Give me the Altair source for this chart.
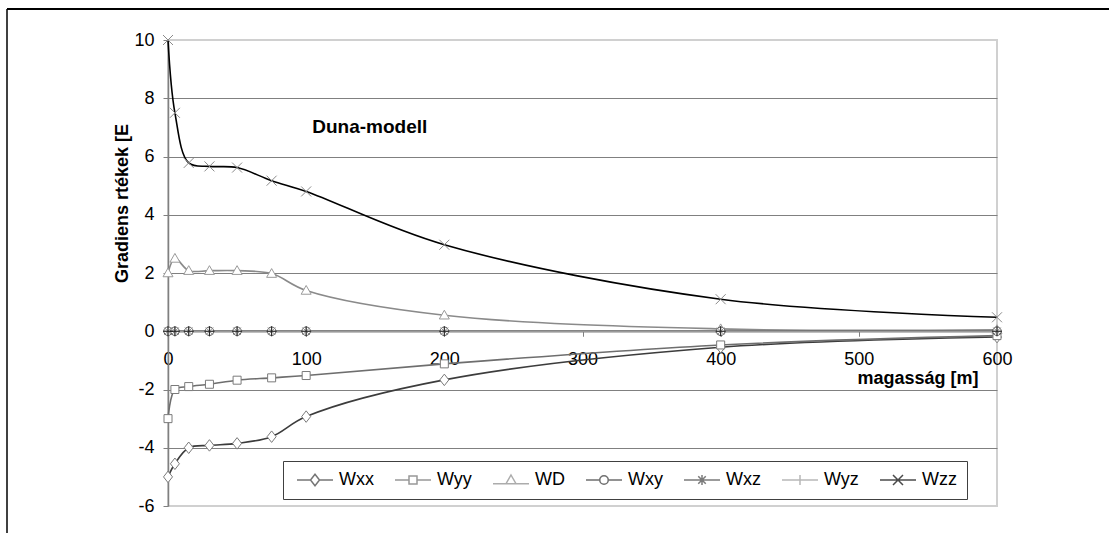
import altair as alt
import pandas as pd

# Heights above the surface [m]
heights = [0, 5, 15, 30, 50, 75, 100, 200, 400, 600]

# Gradient tensor components [E] along the profile
wxx = [-5.0, -4.55, -4.0, -3.92, -3.85, -3.62, -2.93, -1.67, -0.55, -0.2]
wyy = [-3.0, -2.0, -1.9, -1.82, -1.68, -1.6, -1.52, -1.12, -0.47, -0.15]
wd = [2.0, 2.5, 2.08, 2.08, 2.08, 1.98, 1.4, 0.55, 0.08, 0.05]
wxy = [0, 0, 0, 0, 0, 0, 0, 0, 0, 0]
wxz = [0, 0, 0, 0, 0, 0, 0, 0, 0, 0]
wyz = [0, 0, 0, 0, 0, 0, 0, 0, 0, 0]
wzz = [10.0, 7.5, 5.78, 5.66, 5.62, 5.17, 4.8, 2.97, 1.1, 0.48]

series_names = ["Wxx", "Wyy", "WD", "Wxy", "Wxz", "Wyz", "Wzz"]
series_values = [wxx, wyy, wd, wxy, wxz, wyz, wzz]

x_ticks = [0, 100, 200, 300, 400, 500, 600]
y_ticks = [-6, -4, -2, 0, 2, 4, 6, 8, 10]

rows = []
for name, vals in zip(series_names, series_values):
    for h, v in zip(heights, vals):
        rows.append({"series": name, "h": h, "v": v})
df = pd.DataFrame(rows)

# ---- styling -------------------------------------------------------------
FONT = "Liberation Sans"
line_colors = ["#3c3c3c", "#6e6e6e", "#8a8a8a", "#333333", "#444444", "#9a9a9a", "#000000"]
line_widths = [1.6, 1.6, 1.6, 1.6, 1.6, 1.6, 2.4]
marker_colors = ["#7a7a7a", "#7a7a7a", "#9a9a9a", "#555555", "#8a8a8a", "#222222", "#8a8a8a"]

marker_paths = [
    "M0,-1.15L0.9,0L0,1.15L-0.9,0Z",                       # diamond
    "M-0.8,-0.8L0.8,-0.8L0.8,0.8L-0.8,0.8Z",               # square
    "M0,-1L1,0.75L-1,0.75Z",                               # triangle
    "M0.85,0A0.85,0.85 0 1 1 -0.85,0A0.85,0.85 0 1 1 0.85,0Z",  # circle
    "M-1,0L1,0M0,-1L0,1M-0.75,-0.75L0.75,0.75M-0.75,0.75L0.75,-0.75",  # asterisk
    "M-1,0L1,0M0,-1L0,1",                                  # plus
    "M-1,-1L1,1M-1,1L1,-1",                                # x
]

# legend keys: a short line segment with the marker in the middle
legend_paths = [
    "M-3.6,0L-0.9,0M0.9,0L3.6,0M0,-1.15L0.9,0L0,1.15L-0.9,0Z",
    "M-3.6,0L-0.8,0M0.8,0L3.6,0M-0.8,-0.8L0.8,-0.8L0.8,0.8L-0.8,0.8Z",
    "M-3.6,0.75L-1,0.75M1,0.75L3.6,0.75M0,-1L1,0.75L-1,0.75Z",
    "M-3.6,0L-0.85,0M0.85,0L3.6,0M0.85,0A0.85,0.85 0 1 1 -0.85,0A0.85,0.85 0 1 1 0.85,0Z",
    "M-3.6,0L3.6,0M0,-1L0,1M-0.75,-0.75L0.75,0.75M-0.75,0.75L0.75,-0.75",
    "M-3.6,0L3.6,0M0,-1L0,1",
    "M-3.6,0L3.6,0M-1,-1L1,1M-1,1L1,-1",
]

W, H = 829, 466
Y_MIN, Y_MAX = -6, 10
x_scale = alt.Scale(domain=[0, 600], nice=False, zero=False)
y_scale = alt.Scale(domain=[Y_MIN, Y_MAX], nice=False, zero=False)
zero_offset = -H * (0 - Y_MIN) / (Y_MAX - Y_MIN)

x_axis = alt.Axis(
    values=x_ticks, orient="bottom", offset=zero_offset, grid=False,
    domainColor="#808080", domainWidth=1.5, tickColor="#808080", tickSize=5,
    labelFont=FONT, labelFontSize=18, labelColor="#000", labelPadding=14,
    labelBaseline="top", labelFlush=False, labelOverlap=False,
    title="magasság [m]", titleFont=FONT, titleFontSize=18, titleFontWeight="bold",
    titleColor="#000", titleAnchor="end", titleAlign="right", titleBaseline="middle",
    titleX=810, titleY=47,
)
y_axis = alt.Axis(
    values=y_ticks, grid=True, gridColor="#808080", gridWidth=1,
    gridOpacity={"condition": {"test": "datum.value == 10 || datum.value == -6 || datum.value == 0",
                               "value": 0}, "value": 1},
    domainColor="#808080", domainWidth=1.5, tickColor="#808080", tickSize=5,
    labelFont=FONT, labelFontSize=18, labelColor="#000", labelPadding=9,
    labelExpr="toString(datum.value)", labelOverlap=False, labelFlush=False,
    title="Gradiens rtékek [E", titleFont=FONT, titleFontSize=18, titleFontWeight="bold",
    titleColor="#000", titleAngle=270, titleAlign="center", titleBaseline="middle",
    titleX=-46, titleY=163,
)

base = alt.Chart(df).encode(
    x=alt.X("h:Q", scale=x_scale, axis=x_axis),
    y=alt.Y("v:Q", scale=y_scale, axis=y_axis),
)

lines = base.mark_line(interpolate="catmull-rom").encode(
    stroke=alt.Stroke("series:N", scale=alt.Scale(domain=series_names, range=line_colors), legend=None),
    strokeWidth=alt.StrokeWidth("series:N", scale=alt.Scale(domain=series_names, range=line_widths), legend=None),
    order=alt.Order("h:Q"),
)

points = base.mark_point(size=100, strokeWidth=1, opacity=1).encode(
    shape=alt.Shape("series:N", scale=alt.Scale(domain=series_names, range=marker_paths), legend=None),
    stroke=alt.Stroke("series:N", scale=alt.Scale(domain=series_names, range=marker_colors), legend=None),
    fill=alt.value("white"),
)

legend = alt.Legend(
    title=None, orient="none", legendX=115, legendY=421, direction="horizontal",
    columns=7, padding=10, columnPadding=17, symbolSize=100, symbolOffset=13,
    labelOffset=15, labelFont=FONT, labelFontSize=18, labelColor="#000",
    strokeColor="#404040", fillColor="white", symbolStrokeWidth=1.5,
)
legend_layer = base.mark_point(size=100).encode(
    shape=alt.Shape("series:N", scale=alt.Scale(domain=series_names, range=legend_paths), legend=legend),
    stroke=alt.Stroke("series:N", scale=alt.Scale(domain=series_names, range=line_colors), legend=legend),
).transform_filter("false")

label = alt.Chart(pd.DataFrame({"h": [146], "v": [7.0], "t": ["Duna-modell"]})).mark_text(
    font=FONT, fontSize=19, fontWeight="bold", color="#000", align="center", baseline="middle"
).encode(x=alt.X("h:Q", scale=x_scale), y=alt.Y("v:Q", scale=y_scale), text="t:N")

one = pd.DataFrame({"k": [0]})
frame_top = alt.Chart(one).mark_rule(color="#000", strokeWidth=2).encode(
    x=alt.value(-161), x2=alt.value(941), y=alt.value(-31))
frame_left = alt.Chart(one).mark_rule(color="#000", strokeWidth=1.5).encode(
    x=alt.value(-161), y=alt.value(-31), y2=alt.value(493))

chart = alt.layer(
    lines, points, legend_layer, label, frame_top, frame_left
).resolve_scale(
    stroke="independent", shape="independent", strokeWidth="independent"
).properties(
    width=W, height=H,
    autosize=alt.AutoSizeParams(type="none"),
    padding={"left": 168, "top": 40, "right": 112, "bottom": 27},
    background="white",
).configure_view(stroke="#d0d0d0", strokeWidth=2)

chart.save("out.html", embed_options={"renderer": "svg", "actions": False})
